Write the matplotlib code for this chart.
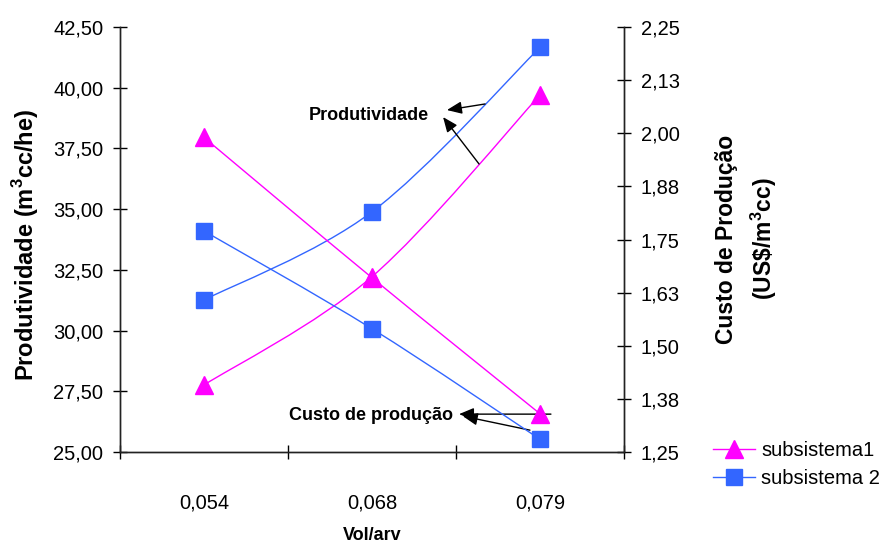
import numpy as np
import matplotlib.pyplot as plt
from matplotlib.path import Path
from matplotlib.patches import PathPatch
from matplotlib.lines import Line2D

plt.rcParams['font.family'] = ['Liberation Sans', 'DejaVu Sans']
plt.rcParams['mathtext.fontset'] = 'custom'
plt.rcParams['mathtext.rm'] = 'Liberation Sans'
plt.rcParams['mathtext.bf'] = 'Liberation Sans:bold'

# dados
vol_arv = ["0,054", "0,068", "0,079"]
prod_sub1 = [27.76, 32.22, 39.70]      # m3cc/he
prod_sub2 = [31.26, 34.89, 41.66]
custo_sub1 = [1.99, 1.66, 1.34]        # US$/m3cc
custo_sub2 = [1.77, 1.54, 1.28]

prod_ticks = [25.0, 27.5, 30.0, 32.5, 35.0, 37.5, 40.0, 42.5]
custo_ticks = [1.25, 1.375, 1.5, 1.625, 1.75, 1.875, 2.0, 2.125, 2.25]
custo_labels = ["1,25", "1,38", "1,50", "1,63", "1,75", "1,88", "2,00", "2,13", "2,25"]

cor1 = '#FF00FF'
cor2 = '#3366FF'


# linha suavizada (bezier) passando pelos pontos
def smooth_path(xs, ys):
    pts = np.column_stack([xs, ys]).astype(float)
    n = len(pts)
    verts = [pts[0]]
    codes = [Path.MOVETO]
    for i in range(n - 1):
        p0 = pts[i - 1] if i > 0 else pts[i]
        p1 = pts[i]
        p2 = pts[i + 1]
        p3 = pts[i + 2] if i + 2 < n else pts[i + 1]
        verts += [p1 + (p2 - p0) / 6, p2 - (p3 - p1) / 6, p2]
        codes += [Path.CURVE4] * 3
    return Path(verts, codes)


x = np.arange(len(vol_arv))

fig = plt.figure(figsize=(8.87, 5.45), dpi=100)
ax = fig.add_axes([0.1353, 0.1706, 0.5682, 0.7799])
ax2 = ax.twinx()

ax.add_patch(PathPatch(smooth_path(x, prod_sub1), fill=False, ec=cor1, lw=1))
ax.add_patch(PathPatch(smooth_path(x, prod_sub2), fill=False, ec=cor2, lw=1))
ax2.add_patch(PathPatch(smooth_path(x, custo_sub1), fill=False, ec=cor1, lw=1))
ax2.add_patch(PathPatch(smooth_path(x, custo_sub2), fill=False, ec=cor2, lw=1))

ax.plot(x, prod_sub1, ls='none', marker='^', ms=12.5, color=cor1, mec=cor1)
ax.plot(x, prod_sub2, ls='none', marker='s', ms=11, color=cor2, mec=cor2)
ax2.plot(x, custo_sub1, ls='none', marker='^', ms=12.5, color=cor1, mec=cor1)
ax2.plot(x, custo_sub2, ls='none', marker='s', ms=11, color=cor2, mec=cor2)

# eixos
ax.set_xlim(-0.5, 2.5)
ax.set_ylim(25, 42.5)
ax2.set_ylim(1.25, 2.25)

ax.set_xticks([-0.5, 0.5, 1.5, 2.5])
ax.set_xticklabels([])
ax.set_xticks(x, minor=True)
ax.set_xticklabels(vol_arv, minor=True)
ax.tick_params(axis='x', which='major', direction='inout', length=10, width=1)
ax.tick_params(axis='x', which='minor', length=0, pad=30, labelsize=14.5)

ax.set_yticks(prod_ticks)
ax.set_yticklabels([f"{v:.2f}".replace('.', ',') for v in prod_ticks])
ax.tick_params(axis='y', direction='inout', length=10, width=1, pad=7, labelsize=14.5)

ax2.set_yticks(custo_ticks)
ax2.set_yticklabels(custo_labels)
ax2.tick_params(axis='y', direction='inout', length=10, width=1, pad=7, labelsize=14.5)

for a in (ax, ax2):
    a.spines['top'].set_visible(False)
    for s in ('left', 'right', 'bottom'):
        a.spines[s].set_color('#222222')
        a.spines[s].set_linewidth(1)

# títulos dos eixos
fig.text(26 / 887, 1 - 245 / 545, r"Produtividade (m$^\mathbf{3}$cc/he)", rotation=90,
         ha='center', va='center', fontsize=17, weight='bold')
fig.text(747 / 887, 1 - 239 / 545, "Custo de Produção\n" + r"(US\$/m$^\mathbf{3}$cc)",
         rotation=90, ha='center', va='center', fontsize=16.5, weight='bold',
         linespacing=1.45)
fig.text(372 / 887, 1 - 527 / 545, "Vol/arv", ha='center', va='top',
         fontsize=13, weight='bold')

# anotações com setas
seta = dict(arrowstyle='-|>,head_length=0.6,head_width=0.25', color='black',
            lw=1, mutation_scale=15, shrinkA=0, shrinkB=0)
ax.text(0.98, 38.85, "Produtividade", ha='center', va='center', fontsize=13, weight='bold')
ax.annotate('', xy=(1.446, 39.08), xytext=(1.673, 39.33), arrowprops=seta)
ax.annotate('', xy=(1.423, 38.79), xytext=(1.637, 36.86), arrowprops=seta)

ax.text(0.994, 26.52, "Custo de produção", ha='center', va='center', fontsize=13, weight='bold')
ax.annotate('', xy=(1.518, 26.56), xytext=(2.065, 26.56), arrowprops=seta)
ax.annotate('', xy=(1.54, 26.48), xytext=(1.94, 25.9), arrowprops=seta)

# legenda
handles = [
    Line2D([], [], color=cor1, lw=1, marker='^', ms=12.5),
    Line2D([], [], color=cor2, lw=1, marker='s', ms=11),
]
fig.legend(handles, ["subsistema1", "subsistema 2"], loc='upper left',
           bbox_to_anchor=(713 / 887, 1 - 441 / 545), frameon=False,
           fontsize=14.5, handlelength=2.1, handletextpad=0.3,
           labelspacing=0.45, borderpad=0, borderaxespad=0)

fig.savefig("out.png", dpi=100)
